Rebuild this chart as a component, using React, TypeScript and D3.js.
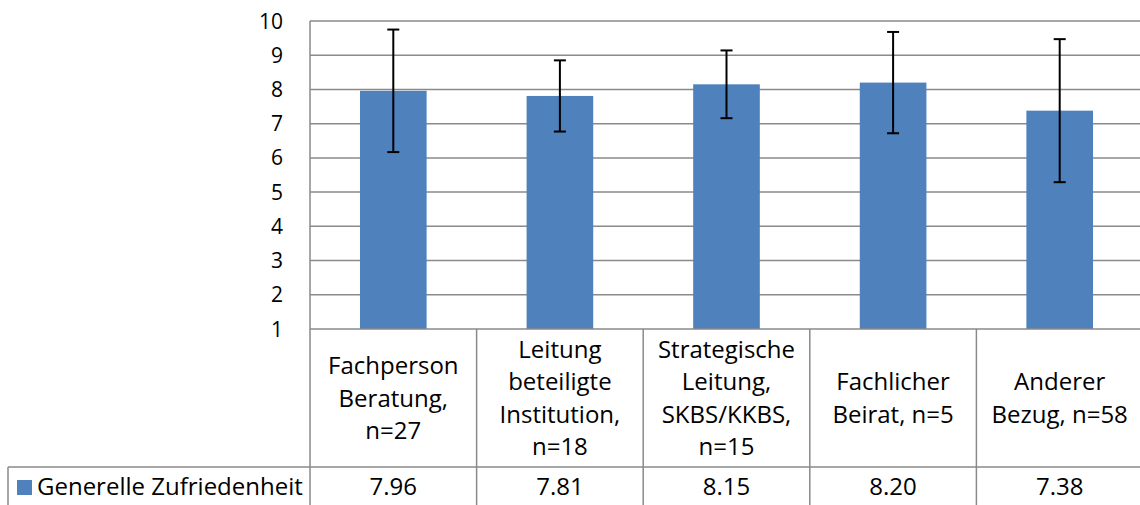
import React from "react";
import * as d3 from "d3";

const categories: string[][] = [
  ["Fachperson", "Beratung,", "n=27"],
  ["Leitung", "beteiligte", "Institution,", "n=18"],
  ["Strategische", "Leitung,", "SKBS/KKBS,", "n=15"],
  ["Fachlicher", "Beirat, n=5"],
  ["Anderer", "Bezug, n=58"],
];
const values: number[] = [7.96, 7.81, 8.15, 8.2, 7.38];
const errors: number[] = [1.79, 1.04, 0.99, 1.48, 2.09];
const valueLabels: string[] = ["7.96", "7.81", "8.15", "8.20", "7.38"];
const yTicks: number[] = [1, 2, 3, 4, 5, 6, 7, 8, 9, 10];
const seriesName = "Generelle Zufriedenheit";

const W = 1140;
const H = 505;
const FONT = "'Open Sans', 'Noto Sans', sans-serif";
const FS_TICK = 21;
const FS = 24;
const GRID = "#8a8a8a";
const BAR = "#4F81BD";

export default function App() {
  const plotLeft = 310;
  const plotRight = 1143;
  const y = d3.scaleLinear().domain([1, 10]).range([329, 21]);
  const x = d3
    .scaleBand<number>()
    .domain(d3.range(categories.length))
    .range([plotLeft, plotRight])
    .paddingInner(0)
    .paddingOuter(0);
  const bw = x.bandwidth();
  const barW = bw * 0.4;
  const axisY = y(1);
  const rowY = 467;
  const lineH = 32.5;
  const catCenter = (axisY + rowY) / 2;

  return (
    <svg
      width={W}
      height={H}
      style={{ position: "absolute", left: 0, top: 0, display: "block" }}
      fontFamily={FONT}
    >
      <rect x={0} y={0} width={W} height={H} fill="#ffffff" />
      {yTicks.slice(1).map((t) => (
        <line
          key={"g" + t}
          x1={plotLeft}
          x2={W}
          y1={y(t)}
          y2={y(t)}
          stroke={GRID}
          strokeWidth={1.5}
        />
      ))}
      {yTicks.map((t) => (
        <text
          key={"t" + t}
          x={283}
          y={y(t)}
          dy="0.36em"
          textAnchor="end"
          fontSize={FS_TICK}
          fill="#000"
        >
          {t}
        </text>
      ))}
      {values.map((v, i) => (
        <rect
          key={"b" + i}
          x={(x(i) as number) + (bw - barW) / 2}
          y={y(v)}
          width={barW}
          height={axisY - y(v)}
          fill={BAR}
        />
      ))}
      {values.map((v, i) => {
        const cx = (x(i) as number) + bw / 2;
        const top = y(v + errors[i]);
        const bot = y(v - errors[i]);
        return (
          <g key={"e" + i} stroke="#000" strokeWidth={2}>
            <line x1={cx} x2={cx} y1={top} y2={bot} />
            <line x1={cx - 6} x2={cx + 6} y1={top} y2={top} />
            <line x1={cx - 6} x2={cx + 6} y1={bot} y2={bot} />
          </g>
        );
      })}
      <line x1={plotLeft} x2={plotLeft} y1={y(10)} y2={H} stroke={GRID} strokeWidth={1.5} />
      <line x1={plotLeft} x2={W} y1={axisY} y2={axisY} stroke={GRID} strokeWidth={1.5} />
      <line x1={8} x2={W} y1={rowY} y2={rowY} stroke={GRID} strokeWidth={1.5} />
      <line x1={8} x2={8} y1={rowY} y2={H} stroke={GRID} strokeWidth={1.5} />
      {d3.range(1, categories.length).map((i) => (
        <line
          key={"v" + i}
          x1={x(i) as number}
          x2={x(i) as number}
          y1={axisY}
          y2={H}
          stroke={GRID}
          strokeWidth={1.5}
        />
      ))}
      {categories.map((lines, i) => {
        const cx = (x(i) as number) + bw / 2;
        const start = catCenter - ((lines.length - 1) * lineH) / 2;
        return (
          <text key={"c" + i} textAnchor="middle" fontSize={FS} fill="#000">
            {lines.map((l, j) => (
              <tspan key={j} x={cx} y={start + j * lineH} dy="0.36em">
                {l}
              </tspan>
            ))}
          </text>
        );
      })}
      <rect x={17} y={480} width={15} height={15} fill={BAR} />
      <text x={37} y={495} fontSize={FS} fill="#000">
        {seriesName}
      </text>
      {valueLabels.map((s, i) => (
        <text
          key={"vl" + i}
          x={(x(i) as number) + bw / 2}
          y={495}
          textAnchor="middle"
          fontSize={FS}
          fill="#000"
        >
          {s}
        </text>
      ))}
    </svg>
  );
}
